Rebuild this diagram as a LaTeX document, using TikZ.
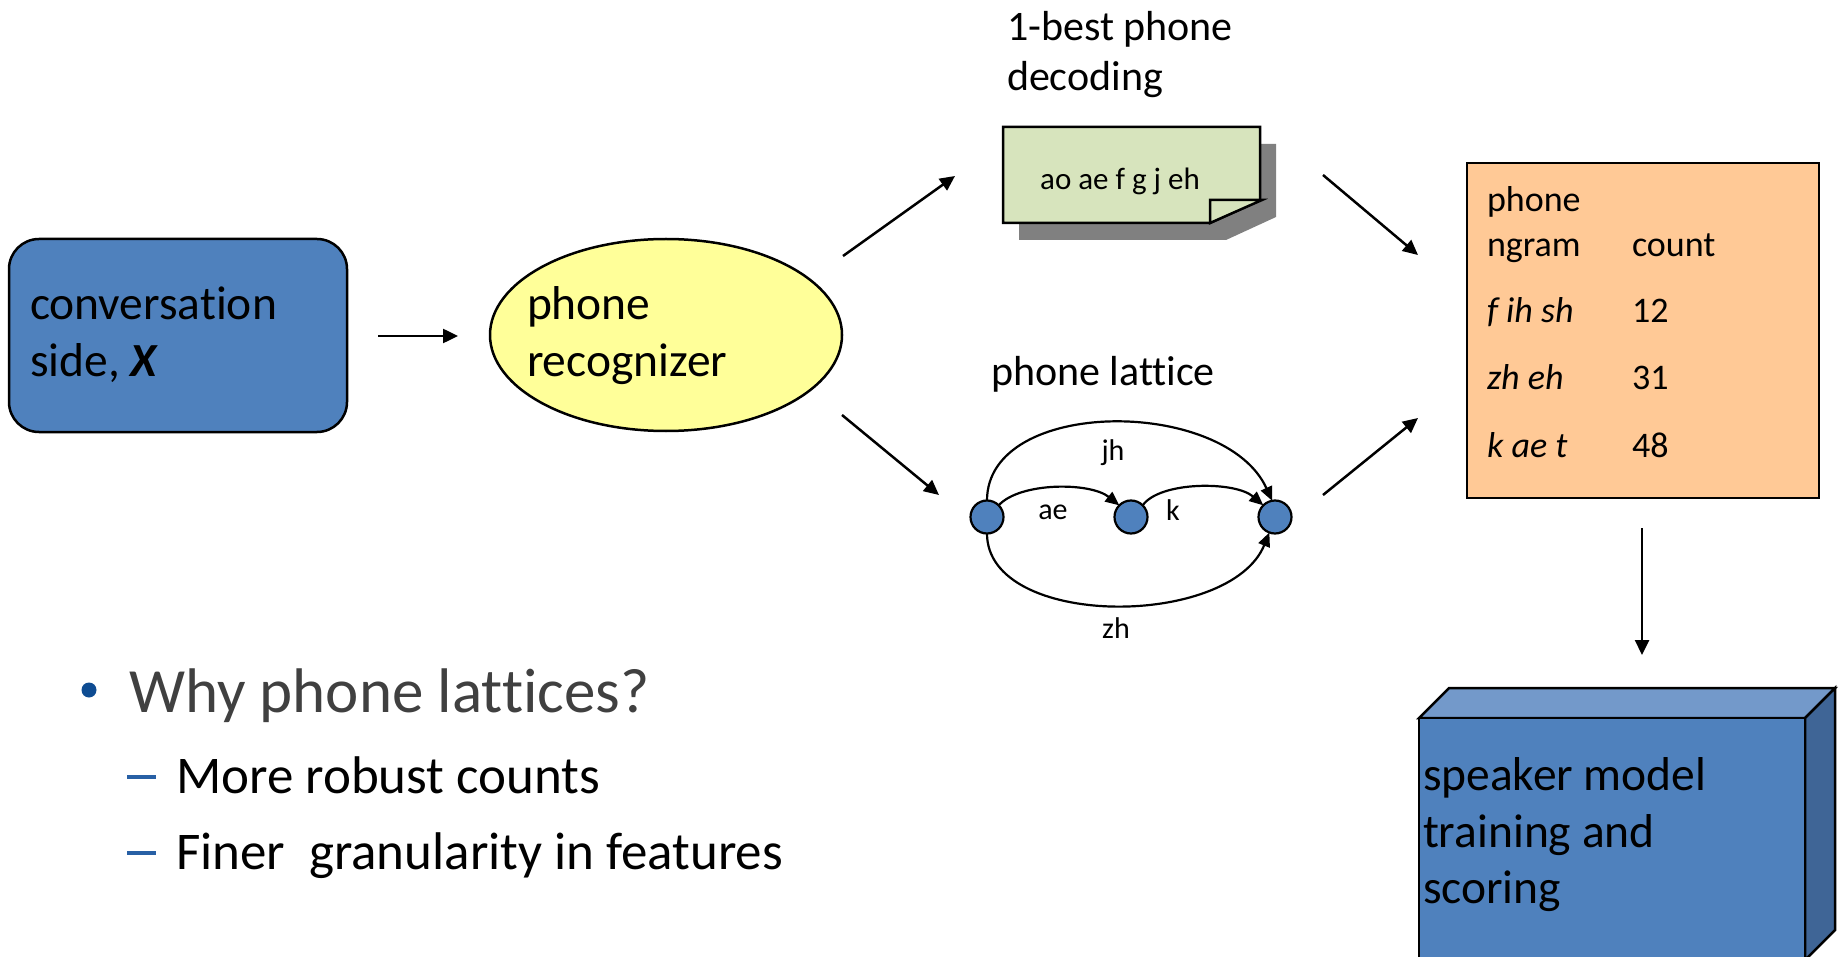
\documentclass[tikz,border=0pt]{standalone}
\usepackage{fontspec}
\setmainfont{Carlito}[Ligatures={NoCommon,NoRequired,NoContextual}]
\usetikzlibrary{arrows.meta,shapes.geometric}

\definecolor{boxblue}{HTML}{4F81BD}
\definecolor{boxtop}{HTML}{7399CA}
\definecolor{boxside}{HTML}{3F6596}
\definecolor{recyellow}{HTML}{FFFF99}
\definecolor{notegreen}{HTML}{D7E4BD}
\definecolor{shadowgray}{HTML}{808080}
\definecolor{tablepeach}{HTML}{FFC996}
\definecolor{bulletblue}{RGB}{14,76,146}
\definecolor{dashblue}{RGB}{40,96,165}
\definecolor{bodygray}{RGB}{64,64,64}

\begin{document}
\begin{tikzpicture}[x=1pt,y=-1pt,
  every node/.style={inner sep=0pt,outer sep=0pt},
  txt/.style={anchor=base west},
  bigtxt/.style={txt,font=\fontsize{47.5}{57}\selectfont},
  lbltxt/.style={txt,font=\fontsize{42}{50}\selectfont},
  tabtxt/.style={txt,font=\fontsize{36}{44}\selectfont},
  edgetxt/.style={font=\fontsize{30}{36}\selectfont},
  outline/.style={draw=black,line width=2.5pt,line join=miter},
  flow/.style={line width=2.5pt,-{Triangle[length=15pt,width=14pt]}},
  latt/.style={line width=2.2pt,-{Triangle[length=14pt,width=12pt]}},
  state/.style={circle,draw=black,line width=2.2pt,fill=boxblue,minimum size=33pt}]

\clip (0,0) rectangle (1839,957);
\fill[white] (0,0) rectangle (1839,957);

% input: conversation side
\node[outline,rounded corners=30pt,fill=boxblue,minimum width=338pt,minimum height=193pt] (conv) at (178,335.5) {};
\node[bigtxt] (conv1) at (30,320) {conversation};
\node[bigtxt] (conv2) at (30,377) {side, \textbf{\textit{X}}};

% phone recognizer
\node[ellipse,outline,fill=recyellow,minimum width=352pt,minimum height=192pt] (rec) at (666,335) {};
\node[bigtxt] (rec1) at (527,320) {phone};
\node[bigtxt] (rec2) at (527,377) {recognizer};

% 1-best decoding note with folded corner and drop shadow
\node[lbltxt] (best1) at (1007,41) {1-best phone};
\node[lbltxt] (best2) at (1007,91) {decoding};
\fill[shadowgray] (1019,144) -- (1276,144) -- (1276,217) -- (1226,240) -- (1019,240) -- cycle;
\draw[outline,fill=notegreen] (1003,127) -- (1260,127) -- (1260,200) -- (1210,223) -- (1003,223) -- cycle;
\draw[outline,fill=notegreen] (1210,223) -- (1210,200) -- (1262,200) -- cycle;
\node[font=\fontsize{31}{37}\selectfont,anchor=base] (best) at (1120,190) {ao ae f g j eh};

% phone lattice
\node[lbltxt] (lattlbl) at (991,386) {phone lattice};
\node[state] (n1) at (987,517) {};
\node[state] (n2) at (1131,517) {};
\node[state] (n3) at (1275,517) {};
\draw[latt] (n1.north) .. controls (987,397) and (1225,397) .. (n3.100);
\draw[latt] (n1.south) .. controls (987,629) and (1230,629) .. (n3.-110);
\draw[latt] (n1.45) .. controls (1020,482) and (1090,482) .. (n2.135);
\draw[latt] (n2.45) .. controls (1160,481) and (1235,481) .. (n3.135);
\node[edgetxt] (ejh) at (1113,453) {jh};
\node[edgetxt] (eae) at (1053,512) {ae};
\node[edgetxt] (ek) at (1173,510) {k};
\node[edgetxt] (ezh) at (1116,628) {zh};

% n-gram count table
\node[outline,fill=tablepeach,minimum width=352pt,minimum height=335pt] (tab) at (1643,330.5) {};
\node[tabtxt] (th1) at (1487,212) {phone};
\node[tabtxt] (th2) at (1487,257) {ngram};
\node[tabtxt] (th3) at (1632,257) {count};
\node[tabtxt] (r1a) at (1487,323) {\itshape f ih sh};
\node[tabtxt] (r1b) at (1632,323) {12};
\node[tabtxt] (r2a) at (1487,390) {\itshape zh eh};
\node[tabtxt] (r2b) at (1632,390) {31};
\node[tabtxt] (r3a) at (1487,457) {\itshape k ae t};
\node[tabtxt] (r3b) at (1632,457) {48};

% speaker model block
\draw[outline,fill=boxtop] (1419,718) -- (1449,688) -- (1835,688) -- (1805,718) -- cycle;
\draw[outline,fill=boxside] (1805,718) -- (1835,688) -- (1835,930) -- (1805,960) -- cycle;
\node[outline,fill=boxblue,anchor=north west,minimum width=386pt,minimum height=260pt] (spk) at (1419,718) {};
\node[bigtxt] (spk1) at (1423,790) {speaker model};
\node[bigtxt] (spk2) at (1423,847) {training and};
\node[bigtxt] (spk3) at (1423,903) {scoring};

% connectors
\coordinate (c1s) at (378,336);  \coordinate (c1e) at (458,336);
\coordinate (c2s) at (843,256);  \coordinate (c2e) at (955,176);
\coordinate (c3s) at (842,415);  \coordinate (c3e) at (939,495);
\coordinate (c4s) at (1323,175); \coordinate (c4e) at (1418,255);
\coordinate (c5s) at (1323,495); \coordinate (c5e) at (1418,418);
\coordinate (c6s) at (1642,528); \coordinate (c6e) at (1642,655);
\draw[flow] (c1s) -- (c1e);
\draw[flow] (c2s) -- (c2e);
\draw[flow] (c3s) -- (c3e);
\draw[flow] (c4s) -- (c4e);
\draw[flow] (c5s) -- (c5e);
\draw[flow] (c6s) -- (c6e);

% bullet list
\fill[bulletblue] (89,690) circle (7.5pt);
\node[txt,font=\fontsize{63}{75}\selectfont,text=bodygray] (why) at (129,712) {Why phone lattices?};
\fill[dashblue] (127,774.5) rectangle (156,778.5);
\fill[dashblue] (127,850.5) rectangle (156,854.5);
\node[txt,font=\fontsize{53}{64}\selectfont] (pt1) at (176,793) {More robust counts};
\node[txt,font=\fontsize{53}{64}\selectfont] (pt2) at (176,869) {Finer\ \ granularity in features};
\end{tikzpicture}
\end{document}
